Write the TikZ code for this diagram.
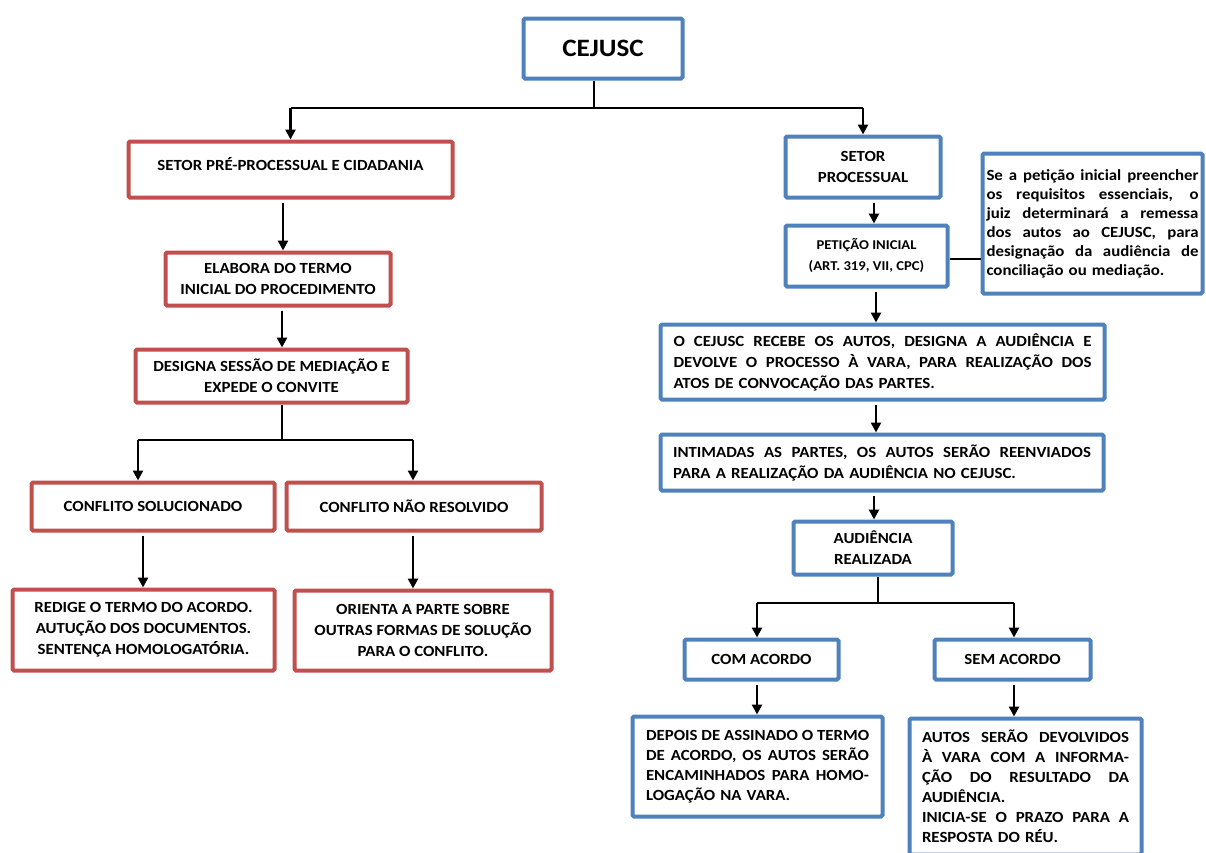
\documentclass[tikz,border=0pt]{standalone}
\usepackage{fontspec}
\setmainfont{Carlito}[FakeStretch=1.085]
\usetikzlibrary{arrows.meta}
\definecolor{rboxc}{HTML}{C0504D}
\definecolor{bboxc}{HTML}{4F81BD}
\newcommand\bxf{\fontsize{15.5}{21}\selectfont\bfseries}
\newcommand\nxf{\fontsize{15.5}{19}\selectfont\bfseries}
\newcommand\jl[2]{\makebox[#1][s]{\spaceskip=0.25em plus 1fil\relax #2}}
\tikzset{
  rb/.style={draw=rboxc, line width=4pt, rounded corners=1.5pt, fill=white, font=\bxf, align=center, inner sep=0pt},
  bb/.style={draw=bboxc, line width=4pt, rounded corners=1.5pt, fill=white, font=\bxf, align=center, inner sep=0pt},
  arr/.style={line width=2.4pt, -{Triangle[width=10pt,length=10pt]}, shorten <=3pt},
  ln/.style={line width=1.3pt},
}
\begin{document}
\begin{tikzpicture}[x=1pt,y=-1pt]
\useasboundingbox (0,0) rectangle (1206,852);
\clip (0,0) rectangle (1206,852);
% top
\node[bb, minimum width=159pt, minimum height=60pt, font=\fontsize{25}{30}\selectfont\bfseries] (cejusc) at (603,48.5) {CEJUSC};
% left branch
\node[rb, minimum width=324pt, minimum height=56pt, text depth=11pt] (setorpre) at (290.5,169.5) {SETOR PRÉ-PROCESSUAL E CIDADANIA};
\node[rb, minimum width=225pt, minimum height=53pt] (elabora) at (278,279) {ELABORA DO TERMO\\INICIAL DO PROCEDIMENTO};
\node[rb, minimum width=272pt, minimum height=53pt] (designa) at (271.5,376) {DESIGNA SESSÃO DE MEDIAÇÃO E\\EXPEDE O CONVITE};
\node[rb, minimum width=243pt, minimum height=48pt] (solucionado) at (153,506.5) {CONFLITO SOLUCIONADO};
\node[rb, minimum width=255pt, minimum height=48pt] (naoresolvido) at (414,506.5) {CONFLITO NÃO RESOLVIDO};
\node[rb, minimum width=262pt, minimum height=81pt] (redige) at (143.5,630) {REDIGE O TERMO DO ACORDO.\\AUTUÇÃO DOS DOCUMENTOS.\\SENTENÇA HOMOLOGATÓRIA.};
\node[rb, minimum width=257pt, minimum height=80pt] (orienta) at (423,630.5) {ORIENTA A PARTE SOBRE\\OUTRAS FORMAS DE SOLUÇÃO\\PARA O CONFLITO.};
% right branch
\node[bb, minimum width=155pt, minimum height=61pt] (setorproc) at (863,167) {SETOR\\PROCESSUAL};
\node[bb, minimum width=162pt, minimum height=61pt, font=\fontsize{13.5}{21}\selectfont\bfseries] (peticao) at (866.5,256) {PETIÇÃO INICIAL\\(ART. 319, VII, CPC)};
\node[bb, minimum width=220pt, minimum height=140pt, font=\nxf, text width=212pt, align=left] (nota) at (1092.5,223.5) {%
\jl{212pt}{Se a petição inicial preencher}\\
\jl{212pt}{os requisitos essenciais, o}\\
\jl{212pt}{juiz determinará a remessa}\\
\jl{212pt}{dos autos ao CEJUSC, para}\\
\jl{212pt}{designação da audiência de}\\
conciliação ou mediação.};
\node[bb, minimum width=444pt, minimum height=75pt, text width=418pt, align=left] (recebe) at (882.5,362) {%
\jl{418pt}{O CEJUSC RECEBE OS AUTOS, DESIGNA A AUDIÊNCIA E}\\
\jl{418pt}{DEVOLVE O PROCESSO À VARA, PARA REALIZAÇÃO DOS}\\
ATOS DE CONVOCAÇÃO DAS PARTES.};
\node[bb, minimum width=443pt, minimum height=56pt, text width=418pt, align=left] (intimadas) at (882,462.5) {%
\jl{418pt}{INTIMADAS AS PARTES, OS AUTOS SERÃO REENVIADOS}\\
PARA A REALIZAÇÃO DA AUDIÊNCIA NO CEJUSC.};
\node[bb, minimum width=159pt, minimum height=53pt] (audiencia) at (873,548) {AUDIÊNCIA\\REALIZADA};
\node[bb, minimum width=154pt, minimum height=40pt] (comacordo) at (761.5,659.5) {COM ACORDO};
\node[bb, minimum width=156pt, minimum height=40pt] (semacordo) at (1012.5,659.5) {SEM ACORDO};
\node[bb, minimum width=250pt, minimum height=100pt, font=\fontsize{15.5}{20}\selectfont\bfseries, text width=223pt, align=left] (depois) at (757.5,766.5) {%
\jl{223pt}{DEPOIS DE ASSINADO O TERMO}\\
\jl{223pt}{DE ACORDO, OS AUTOS SERÃO}\\
\jl{223pt}{ENCAMINHADOS PARA HOMO-}\\
LOGAÇÃO NA VARA.};
\node[bb, minimum width=232pt, minimum height=136pt, font=\fontsize{15.5}{20}\selectfont\bfseries, text width=207pt, align=left] (autos) at (1025.5,786.5) {%
\jl{207pt}{AUTOS SERÃO DEVOLVIDOS}\\
\jl{207pt}{À VARA COM A INFORMA-}\\
\jl{207pt}{ÇÃO DO RESULTADO DA}\\
AUDIÊNCIA.\\
\jl{207pt}{INICIA-SE O PRAZO PARA A}\\
RESPOSTA DO RÉU.};
% connectors top
\coordinate (b1) at (594,108);
\draw[ln] (cejusc.south -| b1) -- (b1);
\draw[ln] (b1 -| setorpre.north) -- (b1 -| setorproc.north);
\draw[arr, shorten <=0pt] (b1 -| setorpre.north) -- (setorpre.north);
\draw[arr, shorten <=0pt] (b1 -| setorproc.north) -- (setorproc.north);
% left connectors
\draw[arr] ([xshift=-7.5pt]setorpre.south) -- ([xshift=-7.5pt]setorpre.south |- elabora.north);
\draw[arr] ([xshift=4pt]elabora.south) -- ([xshift=4pt]elabora.south |- designa.north);
\coordinate (b2) at (282,440);
\coordinate (b2l) at (138,440);
\coordinate (b2r) at (413,440);
\draw[ln] (designa.south -| b2) -- (b2);
\draw[ln] (b2l) -- (b2r);
\draw[arr, shorten <=0pt] (b2l) -- (b2l |- solucionado.north);
\draw[arr, shorten <=0pt] (b2r) -- (b2r |- naoresolvido.north);
\draw[arr] ([xshift=-10pt]solucionado.south) -- ([xshift=-10pt]solucionado.south |- redige.north);
\draw[arr] ([xshift=-1pt]naoresolvido.south) -- ([xshift=-1pt]naoresolvido.south |- orienta.north);
% right connectors
\draw[arr] ([xshift=11pt]setorproc.south) -- ([xshift=11pt]setorproc.south |- peticao.north);
\draw[ln] ([yshift=-3pt]peticao.east) -- ([yshift=-3pt]peticao.east -| nota.west);
\draw[arr] ([xshift=9.5pt]peticao.south) -- ([xshift=9.5pt]peticao.south |- recebe.north);
\draw[arr] ([xshift=-6.5pt]recebe.south) -- ([xshift=-6.5pt]recebe.south |- intimadas.north);
\draw[arr] ([xshift=-8pt]intimadas.south) -- ([xshift=-8pt]intimadas.south |- audiencia.north);
\coordinate (b3) at (878,603);
\coordinate (b3l) at (757,603);
\coordinate (b3r) at (1014,603);
\draw[ln] (audiencia.south -| b3) -- (b3);
\draw[ln] (b3l) -- (b3r);
\draw[arr, shorten <=0pt] (b3l) -- (b3l |- comacordo.north);
\draw[arr, shorten <=0pt] (b3r) -- (b3r |- semacordo.north);
\draw[arr] ([xshift=-4.5pt]comacordo.south) -- ([xshift=-4.5pt]comacordo.south |- depois.north);
\draw[arr] ([xshift=1.5pt]semacordo.south) -- ([xshift=1.5pt]semacordo.south |- autos.north);
\end{tikzpicture}
\end{document}
